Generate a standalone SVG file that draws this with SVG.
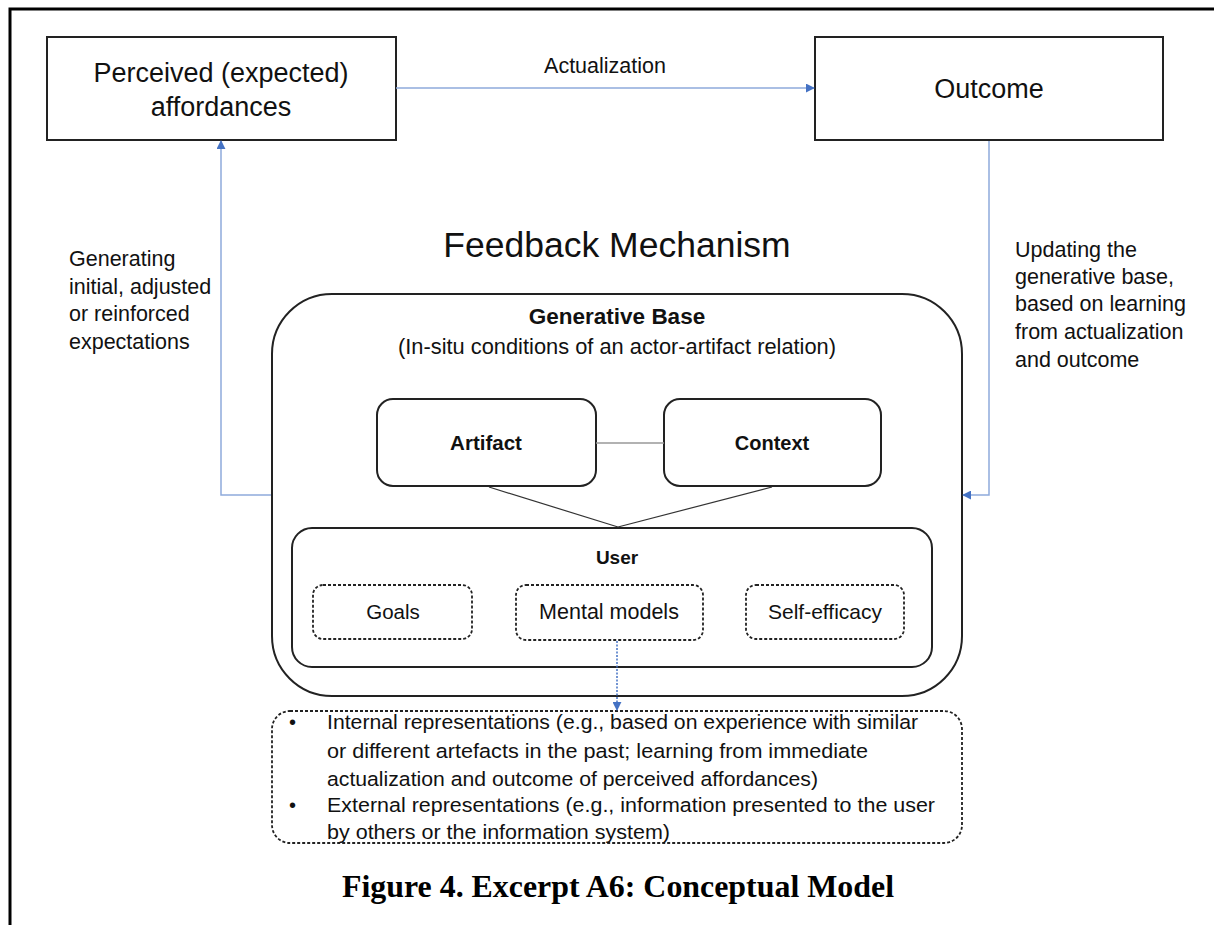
<svg xmlns="http://www.w3.org/2000/svg" width="1214" height="925" viewBox="0 0 1214 925">
<defs>
<style>
.t{font-family:"Liberation Sans",Arial,sans-serif;fill:#111}
.b{font-weight:bold}
.l{font-size:21.5px}
.box{fill:#fff;stroke:#222;stroke-width:2}
.dash{fill:#fff;stroke:#222;stroke-width:1.8;stroke-dasharray:3 2}
.conn{fill:none;stroke:#8eaadb;stroke-width:1.5}
.plain{fill:none;stroke:#333;stroke-width:1.2}
</style>
<marker id="ah" viewBox="0 0 10 10" refX="9" refY="5" markerWidth="9" markerHeight="9" markerUnits="userSpaceOnUse" orient="auto">
<path d="M0,0 L10,5 L0,10 z" fill="#4472c4"/>
</marker>
</defs>
<rect width="1214" height="925" fill="#fff"/>
<path d="M10,925 V9 H1214" fill="none" stroke="#000" stroke-width="3"/>

<g id="perceived">
<rect class="box" x="47" y="37" width="349" height="103"/>
<text class="t" x="221" y="82" font-size="27" text-anchor="middle">Perceived (expected)</text>
<text class="t" x="221" y="116" font-size="27" text-anchor="middle">affordances</text>
</g>
<g id="outcome">
<rect class="box" x="815" y="37" width="348" height="103"/>
<text class="t" x="989" y="98" font-size="27" text-anchor="middle">Outcome</text>
</g>
<g id="actualization-label">
<text class="t l" x="605" y="73" text-anchor="middle">Actualization</text>
</g>
<g id="left-label">
<text class="t l" x="69" y="266">Generating</text>
<text class="t l" x="69" y="294">initial, adjusted</text>
<text class="t l" x="69" y="321">or reinforced</text>
<text class="t l" x="69" y="349">expectations</text>
</g>
<g id="right-label">
<text class="t l" x="1015" y="257">Updating the</text>
<text class="t l" x="1015" y="284">generative base,</text>
<text class="t l" x="1015" y="311">based on learning</text>
<text class="t l" x="1015" y="339">from actualization</text>
<text class="t l" x="1015" y="367">and outcome</text>
</g>
<g id="feedback-title">
<text class="t" x="617" y="257" font-size="35.5" text-anchor="middle">Feedback Mechanism</text>
</g>
<g id="generative-base">
<rect class="box" x="272" y="294" width="690" height="402" rx="60" ry="60"/>
<text class="t b" x="617" y="324" font-size="22.5" text-anchor="middle">Generative Base</text>
<text class="t" x="617" y="354" font-size="21.5" text-anchor="middle" textLength="438" lengthAdjust="spacingAndGlyphs">(In-situ conditions of an actor-artifact relation)</text>
</g>
<g id="artifact">
<rect class="box" x="377" y="399" width="219" height="87" rx="16" ry="16"/>
<text class="t b" x="486" y="450" font-size="20.5" text-anchor="middle">Artifact</text>
</g>
<g id="context">
<rect class="box" x="664" y="399" width="217" height="87" rx="16" ry="16"/>
<text class="t b" x="772" y="450" font-size="20" text-anchor="middle">Context</text>
</g>
<g id="user">
<rect class="box" x="292" y="528" width="640" height="139" rx="20" ry="20"/>
<text class="t b" x="617" y="564" font-size="19" text-anchor="middle">User</text>
</g>
<g id="goals">
<rect class="dash" x="313" y="585" width="159" height="54" rx="10" ry="10"/>
<text class="t" x="393" y="619" font-size="20.5" text-anchor="middle">Goals</text>
</g>
<g id="mental-models">
<rect class="dash" x="516" y="585" width="187" height="55" rx="10" ry="10"/>
<text class="t" x="609" y="619" font-size="21.5" text-anchor="middle">Mental models</text>
</g>
<g id="self-efficacy">
<rect class="dash" x="746" y="585" width="158" height="54" rx="10" ry="10"/>
<text class="t" x="825" y="619" font-size="21" text-anchor="middle">Self-efficacy</text>
</g>
<g id="representations">
<rect class="dash" x="272" y="711" width="690" height="132" rx="18" ry="18"/>
<text class="t" x="289" y="729" font-size="20">•</text>
<text class="t" x="327" y="729" font-size="20.5" textLength="591" lengthAdjust="spacingAndGlyphs">Internal representations (e.g., based on experience with similar</text>
<text class="t" x="327" y="758" font-size="20.5" textLength="541" lengthAdjust="spacingAndGlyphs">or different artefacts in the past; learning from immediate</text>
<text class="t" x="327" y="786" font-size="20.5" textLength="491" lengthAdjust="spacingAndGlyphs">actualization and outcome of perceived affordances)</text>
<text class="t" x="289" y="812" font-size="20">•</text>
<text class="t" x="327" y="812" font-size="20.5" textLength="608" lengthAdjust="spacingAndGlyphs">External representations (e.g., information presented to the user</text>
<text class="t" x="327" y="839" font-size="20.5" textLength="343" lengthAdjust="spacingAndGlyphs">by others or the information system)</text>
</g>
<g id="caption">
<text x="618" y="897" font-family="'Liberation Serif','Times New Roman',serif" font-weight="bold" font-size="32" text-anchor="middle" textLength="552" lengthAdjust="spacingAndGlyphs" fill="#000">Figure 4. Excerpt A6: Conceptual Model</text>
</g>

<g id="connectors">
<line class="conn" x1="396" y1="88" x2="814" y2="88" marker-end="url(#ah)"/>
<polyline class="conn" points="271,495 221,495 221,141" marker-end="url(#ah)"/>
<polyline class="conn" points="989,141 989,495 963,495" marker-end="url(#ah)"/>
<line x1="596" y1="443" x2="664" y2="443" stroke="#999" stroke-width="1.5"/>
<line class="plain" x1="489" y1="487" x2="618" y2="527"/>
<line class="plain" x1="772" y1="487" x2="618" y2="527"/>
<line x1="617" y1="641" x2="617" y2="710" stroke="#4472c4" stroke-width="1.5" stroke-dasharray="2 1.5" marker-end="url(#ah)"/>
</g>
</svg>
